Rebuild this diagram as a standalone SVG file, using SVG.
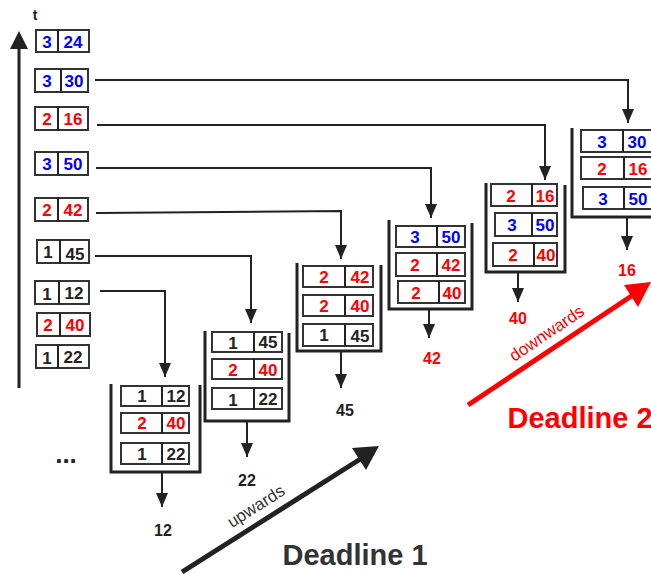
<svg xmlns="http://www.w3.org/2000/svg" width="651" height="574" viewBox="0 0 651 574">
<defs>
<style>
.bx{fill:#fff;stroke:#333;stroke-width:2}
.dv{stroke:#222;stroke-width:2}
.br{fill:none;stroke:#222;stroke-width:3}
.cn{fill:none;stroke:#222;stroke-width:2}
text{font-family:"Liberation Sans",Arial,sans-serif;font-weight:bold;text-anchor:middle}
.n{font-size:17px}
.b{fill:#0000ff}
.r{fill:#ff0000}
.k{fill:#222}
.o{font-size:16px}
</style>
<marker id="ah" markerUnits="userSpaceOnUse" markerWidth="14" markerHeight="12" refX="14" refY="6" orient="auto" viewBox="0 0 14 12">
<path d="M0,0 L14,6 L0,12 Z" fill="#222"/>
</marker>
</defs>
<rect width="651" height="574" fill="#fff"/>

<!-- time axis -->
<g id="axis">
<line x1="19" y1="388" x2="19" y2="48" stroke="#222" stroke-width="3"/>
<path d="M10,49 L28,49 L19,31 Z" fill="#222"/>
<text x="35" y="20" class="k" font-size="14">t</text>
</g>

<!-- left queue items -->
<g id="item-3-24"><rect class="bx" x="36" y="30" width="53" height="22"/><line class="dv" x1="58" y1="30" x2="58" y2="52"/><text class="n b" x="47" y="48">3</text><text class="n b" x="73" y="48">24</text></g>
<g id="item-3-30"><rect class="bx" x="35" y="69" width="53" height="23"/><line class="dv" x1="61" y1="69" x2="61" y2="92"/><text class="n b" x="47" y="87">3</text><text class="n b" x="74" y="87">30</text></g>
<g id="item-2-16"><rect class="bx" x="35" y="107" width="53" height="23"/><line class="dv" x1="58" y1="107" x2="58" y2="130"/><text class="n r" x="47" y="125">2</text><text class="n r" x="73" y="125">16</text></g>
<g id="item-3-50"><rect class="bx" x="35" y="152" width="53" height="23"/><line class="dv" x1="58" y1="152" x2="58" y2="175"/><text class="n b" x="47" y="170">3</text><text class="n b" x="73" y="170">50</text></g>
<g id="item-2-42"><rect class="bx" x="35" y="198" width="53" height="23"/><line class="dv" x1="58" y1="198" x2="58" y2="221"/><text class="n r" x="47" y="216">2</text><text class="n r" x="73" y="216">42</text></g>
<g id="item-1-45"><rect class="bx" x="37" y="240" width="52" height="23"/><line class="dv" x1="60" y1="240" x2="60" y2="263"/><text class="n k" x="48" y="258">1</text><text class="n k" x="75" y="260">45</text></g>
<g id="item-1-12"><rect class="bx" x="35" y="281" width="54" height="23"/><line class="dv" x1="59" y1="281" x2="59" y2="304"/><text class="n k" x="47" y="300">1</text><text class="n k" x="74" y="299">12</text></g>
<g id="item-2-40"><rect class="bx" x="37" y="313" width="53" height="23"/><line class="dv" x1="60" y1="313" x2="60" y2="336"/><text class="n r" x="48" y="331">2</text><text class="n r" x="75" y="331">40</text></g>
<g id="item-1-22"><rect class="bx" x="36" y="345" width="53" height="23"/><line class="dv" x1="58" y1="345" x2="58" y2="368"/><text class="n k" x="47" y="364">1</text><text class="n k" x="73" y="363">22</text></g>

<text x="66" y="463" class="k" font-size="26">...</text>

<!-- stack 1 -->
<g id="stack1">
<path class="br" d="M111,384 V472 H200 V385"/>
<rect class="bx" x="121" y="386" width="68" height="20"/><line class="dv" x1="162" y1="386" x2="162" y2="406"/><text class="n k" x="142" y="402">1</text><text class="n k" x="176" y="402">12</text>
<rect class="bx" x="121" y="413" width="68" height="20"/><line class="dv" x1="162" y1="413" x2="162" y2="433"/><text class="n r" x="142" y="429">2</text><text class="n r" x="176" y="429">40</text>
<rect class="bx" x="121" y="443" width="68" height="21"/><line class="dv" x1="162" y1="443" x2="162" y2="464"/><text class="n k" x="142" y="460">1</text><text class="n k" x="176" y="460">22</text>
<text class="o k" x="163" y="536">12</text>
</g>

<!-- stack 2 -->
<g id="stack2">
<path class="br" d="M205,331 V421 H289 V333"/>
<rect class="bx" x="212" y="332" width="70" height="20"/><line class="dv" x1="254" y1="332" x2="254" y2="352"/><text class="n k" x="233" y="349">1</text><text class="n k" x="268" y="348">45</text>
<rect class="bx" x="212" y="359" width="70" height="20"/><line class="dv" x1="254" y1="359" x2="254" y2="379"/><text class="n r" x="233" y="376">2</text><text class="n r" x="268" y="376">40</text>
<rect class="bx" x="212" y="388" width="70" height="21"/><line class="dv" x1="254" y1="388" x2="254" y2="409"/><text class="n k" x="233" y="406">1</text><text class="n k" x="268" y="405">22</text>
<text class="o k" x="247" y="486">22</text>
</g>

<!-- stack 3 -->
<g id="stack3">
<path class="br" d="M297,263 V351 H381 V265"/>
<rect class="bx" x="303" y="266" width="70" height="21"/><line class="dv" x1="345" y1="266" x2="345" y2="287"/><text class="n r" x="324" y="283">2</text><text class="n r" x="360" y="283">42</text>
<rect class="bx" x="303" y="295" width="70" height="21"/><line class="dv" x1="345" y1="295" x2="345" y2="316"/><text class="n r" x="324" y="312">2</text><text class="n r" x="360" y="312">40</text>
<rect class="bx" x="303" y="324" width="70" height="22"/><line class="dv" x1="345" y1="324" x2="345" y2="346"/><text class="n k" x="324" y="341">1</text><text class="n k" x="360" y="342">45</text>
<text class="o k" x="345" y="416">45</text>
</g>

<!-- stack 4 -->
<g id="stack4">
<path class="br" d="M389,220 V309 H472 V223"/>
<rect class="bx" x="396" y="226" width="69" height="21"/><line class="dv" x1="437" y1="226" x2="437" y2="247"/><text class="n b" x="415" y="243">3</text><text class="n b" x="451" y="243">50</text>
<rect class="bx" x="396" y="253" width="69" height="23"/><line class="dv" x1="437" y1="253" x2="437" y2="276"/><text class="n r" x="415" y="271">2</text><text class="n r" x="451" y="271">42</text>
<rect class="bx" x="398" y="281" width="67" height="22"/><line class="dv" x1="439" y1="281" x2="439" y2="303"/><text class="n r" x="416" y="299">2</text><text class="n r" x="452" y="299">40</text>
<text class="o r" x="432" y="364">42</text>
</g>

<!-- stack 5 -->
<g id="stack5">
<path class="br" d="M486,183 V272 H565 V185"/>
<rect class="bx" x="491" y="184" width="66" height="22"/><line class="dv" x1="532" y1="184" x2="532" y2="206"/><text class="n r" x="511" y="202">2</text><text class="n r" x="545" y="202">16</text>
<rect class="bx" x="495" y="213" width="62" height="23"/><line class="dv" x1="532" y1="213" x2="532" y2="236"/><text class="n b" x="512" y="231">3</text><text class="n b" x="545" y="231">50</text>
<rect class="bx" x="493" y="243" width="64" height="23"/><line class="dv" x1="534" y1="243" x2="534" y2="266"/><text class="n r" x="513" y="261">2</text><text class="n r" x="546" y="261">40</text>
<text class="o r" x="518" y="324">40</text>
</g>

<!-- stack 6 -->
<g id="stack6">
<path class="br" d="M572,128 V217 H660"/>
<rect class="bx" x="581" y="130" width="76" height="22"/><line class="dv" x1="623" y1="130" x2="623" y2="152"/><text class="n b" x="602" y="148">3</text><text class="n b" x="637" y="148">30</text>
<rect class="bx" x="581" y="157" width="76" height="22"/><line class="dv" x1="624" y1="157" x2="624" y2="179"/><text class="n r" x="602" y="175">2</text><text class="n r" x="638" y="175">16</text>
<rect class="bx" x="583" y="187" width="74" height="22"/><line class="dv" x1="624" y1="187" x2="624" y2="209"/><text class="n b" x="603" y="205">3</text><text class="n b" x="638" y="205">50</text>
<text class="o r" x="627" y="276">16</text>
</g>

<!-- connectors -->
<g id="connectors">
<polyline class="cn" points="95,80 628,80 628,123" marker-end="url(#ah)"/>
<polyline class="cn" points="97,125 545,125 545,180" marker-end="url(#ah)"/>
<polyline class="cn" points="96,168 431,168 431,218" marker-end="url(#ah)"/>
<polyline class="cn" points="96,213 341,211 341,259" marker-end="url(#ah)"/>
<polyline class="cn" points="95,256 251,256 251,323" marker-end="url(#ah)"/>
<polyline class="cn" points="100,291 165,291 165,377" marker-end="url(#ah)"/>
<line class="cn" x1="162" y1="472" x2="162" y2="507" marker-end="url(#ah)"/>
<line class="cn" x1="247" y1="421" x2="247" y2="457" marker-end="url(#ah)"/>
<line class="cn" x1="341" y1="351" x2="341" y2="388" marker-end="url(#ah)"/>
<line class="cn" x1="429" y1="309" x2="429" y2="338" marker-end="url(#ah)"/>
<line class="cn" x1="518" y1="272" x2="518" y2="302" marker-end="url(#ah)"/>
<line class="cn" x1="627" y1="217" x2="627" y2="250" marker-end="url(#ah)"/>
</g>

<!-- deadline arrows -->
<g id="deadline1">
<line x1="182" y1="572" x2="362" y2="458" stroke="#222" stroke-width="5"/>
<path d="M379,446 L352,448 L366,470 Z" fill="#222"/>
<text x="259" y="511" transform="rotate(-32.5 259 511)" font-size="17" fill="#333" style="font-weight:normal">upwards</text>
<text x="355" y="565" font-size="29" fill="#333">Deadline 1</text>
</g>
<g id="deadline2">
<line x1="468" y1="405" x2="636" y2="293" stroke="#ff0000" stroke-width="5"/>
<path d="M651,282 L624,285 L638,307 Z" fill="#ff0000"/>
<text x="550" y="338" transform="rotate(-34 550 338)" font-size="17" fill="#ff0000" style="font-weight:normal">downwards</text>
<text x="580" y="428" font-size="29" fill="#ff0000">Deadline 2</text>
</g>
</svg>
